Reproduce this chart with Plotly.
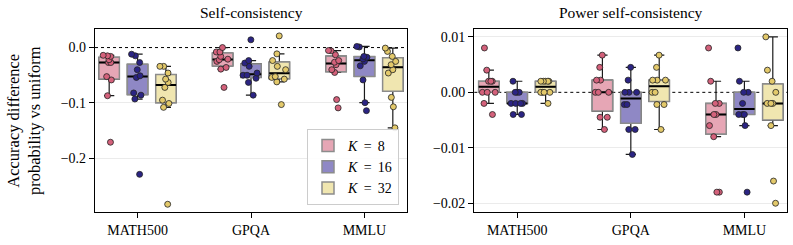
import numpy as np
import plotly.graph_objects as go
from plotly.subplots import make_subplots

categories = ["MATH500", "GPQA", "MMLU"]
k_values = [8, 16, 32]

# Left panel: Self-consistency (per category: MATH500, GPQA, MMLU)
sc_k8 = [
    [-0.014, -0.015, -0.016, -0.022, -0.027, -0.027, -0.0525, -0.0585, -0.087, -0.171],
    [0.000, -0.008, -0.008, -0.016, -0.021, -0.022, -0.025, -0.036, -0.039, -0.072],
    [-0.0054, -0.006, -0.013, -0.0235, -0.0265, -0.031, -0.040, -0.045, -0.094, -0.109],
]
sc_k16 = [
    [-0.012, -0.015, -0.027, -0.040, -0.051, -0.054, -0.082, -0.086, -0.093, -0.229],
    [0.014, -0.0235, -0.028, -0.034, -0.046, -0.050, -0.050, -0.0555, -0.063, -0.086],
    [0.002, 0.001, -0.016, -0.0175, -0.0205, -0.025, -0.033, -0.0585, -0.0996, -0.114],
]
sc_k32 = [
    [-0.034, -0.034, -0.046, -0.057, -0.063, -0.072, -0.095, -0.101, -0.108, -0.283],
    [0.021, -0.0114, -0.0235, -0.034, -0.040, -0.0525, -0.054, -0.057, -0.062, -0.103],
    [-0.001, -0.007, -0.016, -0.025, -0.031, -0.040, -0.046, -0.090, -0.107, -0.145],
]

# Right panel: Power self-consistency
psc_k8 = [
    [0.008, 0.004, 0.002, 0.002, 0.002, 0.0, 0.0, 0.0, -0.002, -0.004],
    [0.0067, 0.0045, 0.0022, 0.0022, 0.0, 0.0, 0.0, -0.0045, -0.0045, -0.0067],
    [0.008, 0.002, -0.002, -0.002, -0.004, -0.004, -0.006, -0.008, -0.018, -0.018],
]
psc_k16 = [
    [0.002, 0.0, 0.0, 0.0, -0.002, -0.002, -0.002, -0.002, -0.004, -0.004],
    [0.0045, 0.0022, 0.0, 0.0, 0.0, -0.0022, -0.0022, -0.0067, -0.0067, -0.0112],
    [0.008, 0.002, 0.0, 0.0, -0.002, -0.004, -0.004, -0.004, -0.006, -0.018],
]
psc_k32 = [
    [0.002, 0.002, 0.002, 0.002, 0.002, 0.0, 0.0, 0.0, 0.0, -0.002],
    [0.0067, 0.0045, 0.0022, 0.0022, 0.0022, 0.0, 0.0, -0.0022, -0.0022, -0.0067],
    [0.010, 0.004, 0.002, 0.0, -0.002, -0.002, -0.002, -0.006, -0.016, -0.020],
]

panel_titles = ["Self-consistency", "Power self-consistency"]
y_title = "Accuracy difference<br>probability vs uniform"

left_ticks = [0.0, -0.1, -0.2]
right_ticks = [0.01, 0.0, -0.01, -0.02]
left_grid = [-0.1, -0.2]
right_grid = [0.01, -0.01, -0.02]

fill_colors = ["#e6a6b5", "#8f88c5", "#f0e6b0"]
point_colors = ["#d4617b", "#2b2483", "#e3c96b"]

FONT = "Liberation Serif"


def box_stats(vals):
    a = np.asarray(vals, dtype=float)
    q1, med, q3 = np.percentile(a, [25, 50, 75])
    iqr = q3 - q1
    lo = a[a >= q1 - 1.5 * iqr].min()
    hi = a[a <= q3 + 1.5 * iqr].max()
    return q1, med, q3, lo, hi


fig = make_subplots(rows=1, cols=2)

panels = [[sc_k8, sc_k16, sc_k32], [psc_k8, psc_k16, psc_k32]]

for p, series_list in enumerate(panels):
    col = p + 1
    for ki, (k, series) in enumerate(zip(k_values, series_list)):
        st = [box_stats(v) for v in series]
        q1 = [s[0] for s in st]
        med = [s[1] for s in st]
        q3 = [s[2] for s in st]
        lo = [s[3] for s in st]
        hi = [s[4] for s in st]
        common = dict(offsetgroup=f"k{k}", alignmentgroup="g", hoverinfo="skip")
        # whiskers (black)
        fig.add_trace(go.Box(x=categories, q1=q1, median=med, q3=q3,
                             lowerfence=lo, upperfence=hi, boxpoints=False,
                             line=dict(color="#1a1a1a", width=1.2),
                             fillcolor="rgba(0,0,0,0)", whiskerwidth=0.5,
                             showlegend=False, **common), row=1, col=col)
        # box body (gray edge, colored fill)
        fig.add_trace(go.Box(x=categories, q1=q1, median=med, q3=q3,
                             lowerfence=q1, upperfence=q3, boxpoints=False,
                             line=dict(color="#8c8c8c", width=1.5),
                             fillcolor=fill_colors[ki], whiskerwidth=0,
                             name=f"<i>K</i>&nbsp;&#8201;=&nbsp;&#8201;{k}",
                             legendgroup=f"k{k}",
                             showlegend=(p == 0), **common), row=1, col=col)
        # median (black)
        fig.add_trace(go.Box(x=categories, q1=med, median=med, q3=med,
                             lowerfence=med, upperfence=med, boxpoints=False,
                             line=dict(color="#000000", width=2),
                             fillcolor="rgba(0,0,0,0)", whiskerwidth=0,
                             showlegend=False, **common), row=1, col=col)
        # individual points
        xs, ys = [], []
        for c, v in zip(categories, series):
            xs += [c] * len(v)
            ys += list(v)
        fig.add_trace(go.Box(x=xs, y=ys, boxpoints="all", jitter=0.8, pointpos=0,
                             marker=dict(color=point_colors[ki], size=6,
                                         line=dict(color="#222222", width=0.8)),
                             line=dict(color="rgba(0,0,0,0)", width=0),
                             fillcolor="rgba(0,0,0,0)", showlegend=False,
                             **common), row=1, col=col)

W, H = 793, 245
y_dom = [(H - 212) / H, (H - 28.5) / H]
x_dom1 = [95 / W, 407 / W]
x_dom2 = [474.3 / W, 787 / W]

axis_common = dict(showline=True, linecolor="black", linewidth=1.3, mirror=True,
                   ticks="outside", ticklen=5, tickwidth=1.2, tickcolor="black",
                   tickfont=dict(family=FONT, size=14, color="black"))

fig.update_layout(
    width=W, height=H, margin=dict(l=0, r=0, t=0, b=0),
    paper_bgcolor="white", plot_bgcolor="white",
    boxmode="group", boxgap=0.25, boxgroupgap=0.28,
    font=dict(family=FONT, color="black"),
    legend=dict(x=399 / W, xanchor="right", y=(H - 205) / H, yanchor="bottom",
                bgcolor="rgba(255,255,255,0.9)", bordercolor="#cccccc", borderwidth=1,
                font=dict(family=FONT, size=14, color="black"),
                tracegroupgap=0, itemwidth=30),
    xaxis=dict(domain=x_dom1, range=[-0.375, 2.375], showgrid=False, **axis_common),
    xaxis2=dict(domain=x_dom2, range=[-0.378, 2.375], showgrid=False, **axis_common),
    yaxis=dict(domain=y_dom, range=[-0.297, 0.0344], tickvals=left_ticks,
               tickformat=".1f", showgrid=False, zeroline=False,
               minor=dict(tickvals=left_grid, showgrid=True, gridcolor="#ebebeb",
                          gridwidth=1, ticks=""),
               **axis_common),
    yaxis2=dict(domain=y_dom, range=[-0.02158, 0.01151], tickvals=right_ticks,
                tickformat=".2f", showgrid=False, zeroline=False,
                minor=dict(tickvals=right_grid, showgrid=True, gridcolor="#ebebeb",
                           gridwidth=1, ticks=""),
                **axis_common),
)

for xr, yr in [("x domain", "y"), ("x2 domain", "y2")]:
    fig.add_shape(type="line", xref=xr, x0=0, x1=1, yref=yr, y0=0, y1=0,
                  line=dict(color="black", width=1, dash="dot"), layer="below")

for title, dom in zip(panel_titles, [x_dom1, x_dom2]):
    fig.add_annotation(text=title, xref="paper", yref="paper",
                       x=(dom[0] + dom[1]) / 2, y=(H - 13) / H,
                       xanchor="center", yanchor="middle", showarrow=False,
                       font=dict(family=FONT, size=15.5, color="black"))

fig.add_annotation(text=y_title, xref="paper", yref="paper",
                   x=24 / W, y=(H - 121) / H, textangle=-90,
                   xanchor="center", yanchor="middle", showarrow=False,
                   font=dict(family=FONT, size=16.5, color="black"))

fig.write_html("out.html")
